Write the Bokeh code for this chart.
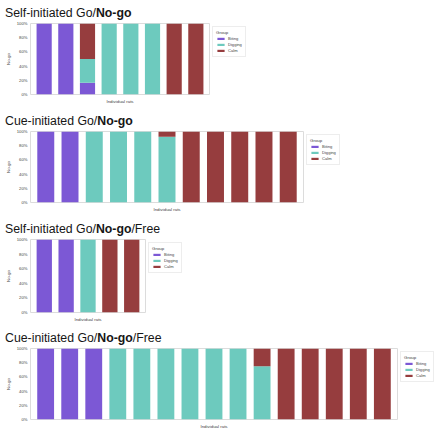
from bokeh.plotting import figure
from bokeh.models import (ColumnDataSource, Range1d, FixedTicker, PrintfTickFormatter,
                          Legend, LegendItem, Div)
from bokeh.layouts import column
from bokeh.embed import file_html
from bokeh.resources import INLINE

# ---------------- data ----------------
groups = ["Biting", "Digging", "Calm"]
y_ticks = [0, 20, 40, 60, 80, 100]

sgng_rats = [1, 2, 3, 4, 5, 6, 7, 8]
sgng_biting = [100, 100, 16.7, 0, 0, 0, 0, 0]
sgng_digging = [0, 0, 33.3, 100, 100, 100, 0, 0]
sgng_calm = [0, 0, 50, 0, 0, 0, 100, 100]

cgng_rats = [1, 2, 3, 4, 5, 6, 7, 8, 9, 10, 11]
cgng_biting = [100, 100, 0, 0, 0, 0, 0, 0, 0, 0, 0]
cgng_digging = [0, 0, 100, 100, 100, 92.5, 0, 0, 0, 0, 0]
cgng_calm = [0, 0, 0, 0, 0, 7.5, 100, 100, 100, 100, 100]

sgngf_rats = [1, 2, 3, 4, 5]
sgngf_biting = [100, 100, 0, 0, 0]
sgngf_digging = [0, 0, 100, 0, 0]
sgngf_calm = [0, 0, 0, 100, 100]

cgngf_rats = [1, 2, 3, 4, 5, 6, 7, 8, 9, 10, 11, 12, 13, 14, 15]
cgngf_biting = [100, 100, 100, 0, 0, 0, 0, 0, 0, 0, 0, 0, 0, 0, 0]
cgngf_digging = [0, 0, 0, 100, 100, 100, 100, 100, 100, 75, 0, 0, 0, 0, 0]
cgngf_calm = [0, 0, 0, 0, 0, 0, 0, 0, 0, 25, 100, 100, 100, 100, 100]

titles = [("Self-initiated Go/", "No-go", ""),
          ("Cue-initiated Go/", "No-go", ""),
          ("Self-initiated Go/", "No-go", "/Free"),
          ("Cue-initiated Go/", "No-go", "/Free")]

# ---------------- style ----------------
colors = ["#7C58D5", "#6DCABE", "#963D3E"]
FONT = "Liberation Sans"
BAR_W = 0.7
EDGE_PAD = 0.28
FRAME_COLOR = "#dcdcdc"
TEXT_COLOR = "#444444"


def make_title(parts):
    pre, bold, post = parts
    return Div(text=f"{pre}<b>{bold}</b>{post}", width=235, height=20,
               margin=(0, 0, 0, 5),
               styles={"font-family": FONT, "font-size": "12.3px", "color": "#161616",
                       "line-height": "26.5px", "white-space": "nowrap"})


def make_panel(rats, biting, digging, calm, fw, fh, bb, bl):
    source = ColumnDataSource(dict(rat=rats, Biting=biting, Digging=digging, Calm=calm))
    pad = BAR_W / 2 + EDGE_PAD
    p = figure(frame_width=fw, frame_height=fh, title=None, toolbar_location=None,
               output_backend="svg",
               x_range=Range1d(rats[0] - pad, rats[-1] + pad), y_range=Range1d(0, 100),
               min_border_top=3, min_border_bottom=bb, min_border_left=bl, min_border_right=0)
    p.background_fill_color = "white"
    p.border_fill_color = "white"
    p.outline_line_color = FRAME_COLOR
    p.outline_line_width = 1
    p.xgrid.visible = False
    p.ygrid.visible = False

    rs = p.vbar_stack(groups, x="rat", width=BAR_W, fill_color=colors, line_color=None,
                      source=source)

    # y axis
    ya = p.yaxis[0]
    ya.ticker = FixedTicker(ticks=y_ticks)
    ya.formatter = PrintfTickFormatter(format="%d%%")
    ya.axis_line_color = None
    ya.major_tick_line_color = None
    ya.minor_tick_line_color = None
    ya.major_tick_out = 0
    ya.major_tick_in = 0
    ya.minor_tick_out = 0
    ya.minor_tick_in = 0
    ya.major_label_text_font = FONT
    ya.major_label_text_font_size = "4.2px"
    ya.major_label_text_color = TEXT_COLOR
    ya.major_label_standoff = 3
    ya.axis_label = "No-go"
    ya.axis_label_text_font = FONT
    ya.axis_label_text_font_size = "4.4px"
    ya.axis_label_text_font_style = "normal"
    ya.axis_label_text_color = TEXT_COLOR
    ya.axis_label_standoff = 3

    # x axis
    xa = p.xaxis[0]
    xa.ticker = FixedTicker(ticks=[])
    xa.axis_line_color = None
    xa.major_tick_line_color = None
    xa.minor_tick_line_color = None
    xa.major_tick_out = 0
    xa.major_tick_in = 0
    xa.minor_tick_out = 0
    xa.minor_tick_in = 0
    xa.major_label_text_font_size = "0px"
    xa.major_label_standoff = 0
    xa.axis_label = "Individual rats"
    xa.axis_label_text_font = FONT
    xa.axis_label_text_font_size = "4.4px"
    xa.axis_label_text_font_style = "normal"
    xa.axis_label_text_color = TEXT_COLOR
    xa.axis_label_standoff = 4

    legend = Legend(items=[LegendItem(label=g, renderers=[r]) for g, r in zip(groups, rs)],
                    title="Group", location="top_left")
    legend.title_text_font = FONT
    legend.title_text_font_size = "4.4px"
    legend.title_text_font_style = "normal"
    legend.title_text_color = TEXT_COLOR
    legend.title_standoff = 1
    legend.label_text_font = FONT
    legend.label_text_font_size = "4.1px"
    legend.label_text_color = TEXT_COLOR
    legend.label_height = 5
    legend.label_width = 10
    legend.label_standoff = 3
    legend.glyph_width = 9
    legend.glyph_height = 3
    legend.spacing = 1
    legend.padding = 3
    legend.margin = 3
    legend.border_line_color = FRAME_COLOR
    legend.border_line_width = 1
    legend.background_fill_color = "white"
    legend.background_fill_alpha = 1
    p.add_layout(legend, "right")
    return p


p1 = make_panel(sgng_rats, sgng_biting, sgng_digging, sgng_calm, 179, 71, 14, 28)
p2 = make_panel(cgng_rats, cgng_biting, cgng_digging, cgng_calm, 273, 71, 14, 28)
p3 = make_panel(sgngf_rats, sgngf_biting, sgngf_digging, sgngf_calm, 115, 73, 13, 30)
p4 = make_panel(cgngf_rats, cgngf_biting, cgngf_digging, cgngf_calm, 367, 71, 14, 28)

layout = column(make_title(titles[0]), p1, make_title(titles[1]), p2,
                make_title(titles[2]), p3, make_title(titles[3]), p4, spacing=0)
open("out.html", "w").write(file_html(layout, INLINE))
